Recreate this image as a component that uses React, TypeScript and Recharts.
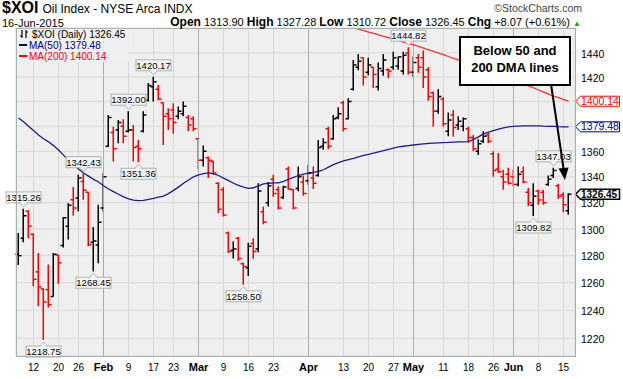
import React from 'react';
import { ComposedChart, Bar, Line, Scatter, XAxis, YAxis, CartesianGrid, ReferenceLine, ReferenceDot } from 'recharts';

// daily OHLC, 7-Jan-2015 .. 16-Jun-2015 (one entry per trading day)
const opens = [
  1281, 1293, 1313.5, 1296, 1268, 1255.5, 1255, 1250, 1280.4, 1287.6, 1302, 1322.3, 1323.5, 1336.4, 1328, 1290, 1288, 1316,
  1364, 1375, 1377, 1380, 1376, 1377, 1364, 1376, 1401, 1412, 1410, 1399, 1390, 1393, 1388, 1390, 1387, 1386,
  1370, 1353, 1355, 1352, 1335, 1330, 1297, 1284, 1293, 1274, 1271, 1289, 1285, 1313, 1320, 1338, 1330, 1324, 1346, 1330, 1331, 1336,
  1337, 1339, 1341, 1364, 1378, 1370, 1387, 1399, 1386, 1410, 1428, 1436, 1424, 1428, 1412, 1425, 1426, 1428, 1429, 1425, 1440,
  1424, 1436, 1436, 1426, 1407, 1392, 1402, 1376, 1389, 1381, 1380, 1378, 1371, 1360, 1368, 1373, 1358, 1346, 1340, 1342,
  1340, 1334, 1344, 1328, 1318, 1329, 1328, 1334, 1341, 1333, 1326, 1313.9,
];
const highs = [
  1297, 1315.26, 1314, 1296.5, 1282, 1256, 1273.5, 1282, 1280.4, 1309, 1319.8, 1332, 1341.6, 1342.43, 1328, 1301.5, 1318.5, 1343,
  1389, 1379.6, 1385, 1385.5, 1392, 1381, 1369, 1392, 1415, 1420.17, 1413.5, 1399, 1394.5, 1398.6, 1395.8, 1400, 1389, 1388,
  1370.3, 1364.5, 1355.9, 1352.8, 1335.6, 1332, 1298, 1290.7, 1294, 1275, 1289.6, 1293, 1335, 1317, 1336, 1341.6, 1332.5, 1333, 1348, 1330.5, 1348, 1341,
  1349.4, 1348, 1369, 1370.3, 1379.6, 1389, 1395.3, 1400.6, 1402.6, 1434, 1439, 1436, 1436, 1428, 1432, 1439, 1427, 1441, 1437, 1441, 1444.82,
  1437, 1439, 1442, 1428, 1408, 1410, 1403.4, 1391, 1393, 1388, 1387, 1379.5, 1373, 1369.5, 1376, 1374.5, 1360, 1358.6, 1345.5, 1347,
  1345.5, 1348, 1348, 1331.3, 1335, 1330, 1330, 1341, 1347.03, 1334.6, 1328, 1327.28,
];
const lows = [
  1273, 1290, 1293, 1257.5, 1243, 1218.75, 1242, 1250, 1259.3, 1286, 1292, 1310, 1313.5, 1322.3, 1287, 1268.45, 1274.4, 1313,
  1363.5, 1352, 1366.4, 1366.4, 1375, 1352, 1351.36, 1375, 1400, 1400, 1401, 1365, 1377, 1374, 1385.6, 1388, 1376, 1376,
  1346, 1348, 1339, 1341.6, 1312, 1309.4, 1282, 1277.8, 1276, 1258.5, 1265, 1277.7, 1282.5, 1303.6, 1317, 1324.6, 1314.7, 1322.8, 1330, 1314.7, 1328.7, 1325.4,
  1333.8, 1330.5, 1340.3, 1361.2, 1361.7, 1369, 1385.6, 1375.7, 1385.6, 1409, 1425.5, 1413, 1421.5, 1411, 1409, 1421, 1419, 1426, 1426, 1422, 1422,
  1420, 1423.5, 1411, 1400.5, 1379.5, 1390, 1379.5, 1372, 1371.5, 1377, 1376, 1366.7, 1360, 1357, 1366.5, 1366.5, 1340, 1343, 1330, 1334,
  1332.6, 1332.6, 1335, 1317.2, 1309.82, 1318.5, 1318.5, 1333, 1339, 1322.8, 1312.7, 1310.72,
];
const closes = [
  1280, 1310, 1302, 1262.5, 1257, 1246, 1244, 1281, 1274.7, 1308.4, 1318, 1316, 1339, 1329.5, 1288.4, 1291, 1305, 1340,
  1387, 1362, 1383, 1372, 1377, 1363, 1362, 1389, 1413, 1416, 1402, 1388, 1386, 1383, 1392, 1396, 1381, 1378,
  1353, 1360, 1353, 1343, 1315, 1310.5, 1283, 1285, 1278, 1272, 1287, 1283, 1329, 1305, 1333, 1327, 1316, 1332, 1330.5, 1316, 1340, 1327,
  1343, 1335, 1363, 1367, 1364, 1386, 1390, 1378, 1400, 1430, 1433, 1420, 1430, 1422, 1427, 1434, 1425, 1436, 1436.8, 1438, 1424,
  1432, 1428, 1420, 1404, 1392, 1404, 1382, 1385, 1379, 1384, 1386, 1371, 1362, 1366, 1372, 1368, 1345, 1344, 1336, 1335,
  1334, 1342, 1336, 1320, 1325, 1322, 1320, 1338, 1345, 1325, 1318.38, 1326.45,
];
const ma50 = [
  1386.6, 1383.5, 1380, 1376.5, 1373, 1370, 1367.5, 1364.5, 1361, 1357, 1353, 1349.5, 1346, 1343, 1340.5, 1338, 1336, 1333,
  1330.5, 1328.5, 1326.5, 1324.5, 1323, 1322, 1321.6, 1321.8, 1322.5, 1323.3, 1324.2, 1325, 1327, 1329.5, 1332, 1335, 1337.5, 1340,
  1341.5, 1342.4, 1343, 1342.5, 1341, 1339, 1337, 1335, 1333.3, 1332, 1331, 1331.5, 1333, 1334.5, 1335, 1335.2, 1335.3, 1336.5, 1338, 1339.5, 1341, 1342,
  1342.8, 1343.5, 1344.2, 1345.5, 1347.5, 1349.5, 1351, 1352.4, 1353.5, 1354.5, 1355.6, 1356.7, 1357.6, 1358.6, 1359.6, 1360.6, 1361.6, 1362.6, 1363.5, 1364, 1364.5,
  1365, 1365.5, 1365.9, 1366.2, 1366.5, 1366.7, 1366.9, 1367, 1367.2, 1367.4, 1367.5, 1367.7, 1369.5, 1371.5, 1373.8, 1375.3, 1376.5, 1377.6, 1378.6, 1379.4,
  1379.8, 1380, 1380.2, 1380.3, 1380.3, 1380.2, 1380, 1379.9, 1379.8, 1379.6, 1379.5, 1379.48,
];
// MA(200) only enters the visible range from early April
const ma200Start = 63;
const ma200 = [
  1466, 1464.8, 1463.6, 1462.4, 1461.2, 1460, 1458.8, 1457.6, 1456.4, 1455.2, 1454, 1452.8, 1451.6, 1450.4, 1449.1, 1447.9,
  1446.7, 1445.4, 1444, 1442.6, 1441.2, 1439.8, 1438.4, 1437, 1435.5, 1434, 1432.5, 1431, 1429.5, 1428, 1426.5, 1425, 1423.5, 1422, 1420.6, 1419.2,
  1417.6, 1416, 1414.3, 1412.6, 1411, 1409.3, 1407.6, 1406, 1404.4, 1403, 1401.5, 1400.14,
];

const xTickIdx = [3, 8, 12, 17, 22, 27, 31, 36, 41, 46, 51, 58, 65, 70, 75, 79, 85, 90, 95, 99, 104, 109];
const xTickText = ['12', '20', '26', 'Feb', '9', '17', '23', 'Mar', '9', '16', '23', 'Apr', '13', '20', '27', 'May', '11', '18', '26', 'Jun', '8', '15'];
const monthIdx = [17, 36, 58, 79, 99];
const yTicks = [1220, 1240, 1260, 1280, 1300, 1320, 1340, 1360, 1380, 1400, 1420, 1440];
const hiddenYTicks = [1380, 1400];

const callouts = [
  { i: 1, v: 1315.26, text: '1315.26', below: false },
  { i: 5, v: 1218.75, text: '1218.75', below: true },
  { i: 13, v: 1342.43, text: '1342.43', below: false },
  { i: 15, v: 1268.45, text: '1268.45', below: true },
  { i: 22, v: 1392.0, text: '1392.00', below: false },
  { i: 24, v: 1351.36, text: '1351.36', below: true },
  { i: 27, v: 1420.17, text: '1420.17', below: false },
  { i: 45, v: 1258.5, text: '1258.50', below: true },
  { i: 78, v: 1444.82, text: '1444.82', below: false },
  { i: 103, v: 1309.82, text: '1309.82', below: true },
  { i: 107, v: 1347.03, text: '1347.03', below: false },
];

const lastTags = [
  { v: 1400.14, text: '1400.14', color: '#ff0000', bold: false },
  { v: 1379.48, text: '1379.48', color: '#000080', bold: false },
  { v: 1326.45, text: '1326.45', color: '#000000', bold: true },
];

const data = opens.map((o, i) => ({
  i,
  open: o,
  close: closes[i],
  range: [lows[i], highs[i]],
  up: i === 0 || closes[i] >= closes[i - 1],
  ma50: ma50[i],
  ma200: i >= ma200Start ? ma200[i - ma200Start] : null,
}));

const RED = '#ff0000';
const FONT = '"Liberation Sans", Arial, sans-serif';

const HiLo = (p: any) => {
  const { x, y, width, height, payload } = p;
  const cx = x + width / 2;
  return <line x1={cx} x2={cx} y1={y} y2={y + height} stroke={payload.up ? '#000' : RED} strokeWidth={1.5} />;
};

const OpenTick = (p: any) => (
  <line x1={p.cx - 3} x2={p.cx} y1={p.cy} y2={p.cy} stroke={p.payload.up ? '#000' : RED} strokeWidth={1.5} />
);
const CloseTick = (p: any) => (
  <line x1={p.cx} x2={p.cx + 3} y1={p.cy} y2={p.cy} stroke={p.payload.up ? '#000' : RED} strokeWidth={1.5} />
);

const Callout = ({ cx, cy, text, below }: any) => {
  const w = 35;
  const h = 11;
  const top = below ? cy + 6 : cy - 6 - h;
  const edge = below ? top : top + h;
  const tip = below ? cy + 2 : cy - 2;
  return (
    <g>
      <rect x={cx - w / 2} y={top} width={w} height={h} fill="#f5f5f5" stroke="#a6b6ae" />
      <polygon points={`${cx - 4},${edge} ${cx},${tip} ${cx + 4},${edge}`} fill="#f5f5f5" stroke="#a6b6ae" />
      <line x1={cx - 3} x2={cx + 3} y1={edge} y2={edge} stroke="#f5f5f5" strokeWidth={1.5} />
      <text x={cx} y={top + 9} textAnchor="middle" fontSize={9.5} fill="#000" fontFamily={FONT}>{text}</text>
    </g>
  );
};

const Tag = ({ cx, cy, text, color, bold }: any) => {
  const x0 = cx + 7;
  const h = 10;
  return (
    <g>
      <polygon
        points={`${x0},${cy} ${x0 + 5},${cy - h / 2} ${x0 + 44},${cy - h / 2} ${x0 + 44},${cy + h / 2} ${x0 + 5},${cy + h / 2}`}
        fill="#fff"
        stroke={color}
        strokeWidth={bold ? 1.5 : 1}
      />
      <text x={x0 + 5.5} y={cy + 3.4} fontSize={bold ? 10 : 10.5} fontWeight={bold ? 'bold' : 'normal'} fill={color} fontFamily={FONT}>
        {text}
      </text>
    </g>
  );
};

const XTick = ({ x, y, payload }: any) => {
  const k = xTickIdx.indexOf(payload.value);
  const label = xTickText[k];
  const month = monthIdx.includes(payload.value);
  return (
    <text x={x} y={y + 15} textAnchor="middle" fontSize={month ? 11 : 10} fontWeight={month ? 'bold' : 'normal'} fill="#000" fontFamily={FONT}>
      {label}
    </text>
  );
};

const YTick = ({ x, y, payload }: any) => {
  if (hiddenYTicks.includes(payload.value)) return <g />;
  return (
    <text x={x} y={y + 4.6} fontSize={10.5} fill="#000" fontFamily={FONT}>{payload.value}</text>
  );
};

const LegendGlyph = () => (
  <svg width={10} height={10} style={{ verticalAlign: -1, marginRight: 3 }}>
    <line x1={3} x2={3} y1={1} y2={9} stroke="#000" strokeWidth={1.2} />
    <line x1={1} x2={3} y1={7} y2={7} stroke="#000" strokeWidth={1.2} />
    <line x1={7} x2={7} y1={1} y2={9} stroke="#000" strokeWidth={1.2} />
    <line x1={7} x2={9} y1={3} y2={3} stroke="#000" strokeWidth={1.2} />
  </svg>
);

export default function App() {
  return (
    <div style={{ position: 'absolute', left: 0, top: 0, width: 623, height: 379, background: '#fff', fontFamily: FONT, overflow: 'hidden' }}>
      <ComposedChart width={623} height={379} data={data} margin={{ top: 28, right: 0, bottom: 0, left: 16 }}>
        <CartesianGrid stroke="#d9d9d9" fill="#efefef" />
        <XAxis
          dataKey="i"
          type="number"
          domain={[-0.5, 111.3]}
          ticks={xTickIdx}
          interval={0}
          height={23}
          tickSize={0}
          tickMargin={0}
          axisLine={false}
          tickLine={false}
          tick={<XTick />}
        />
        <YAxis
          orientation="right"
          scale="log"
          domain={[1207.5, 1461]}
          allowDataOverflow
          ticks={yTicks}
          interval={0}
          width={48}
          tickSize={6}
          tickMargin={0}
          axisLine={false}
          tickLine={false}
          tick={<YTick />}
        />
        {monthIdx.map((m) => (
          <ReferenceLine key={m} x={m} stroke="#adadad" strokeWidth={1} />
        ))}
        <Line dataKey="ma200" stroke="#ff3030" strokeWidth={1.3} dot={false} isAnimationActive={false} />
        <Line dataKey="ma50" stroke="#1c1c8c" strokeWidth={1.3} dot={false} isAnimationActive={false} />
        <Bar dataKey="range" barSize={5} shape={<HiLo />} isAnimationActive={false} />
        <Scatter dataKey="open" shape={OpenTick} isAnimationActive={false} />
        <Scatter dataKey="close" shape={CloseTick} isAnimationActive={false} />
        {callouts.map((c) => (
          <ReferenceDot
            key={c.text}
            x={c.i}
            y={c.v}
            ifOverflow="visible"
            shape={(p: any) => <Callout cx={p.cx} cy={p.cy} text={c.text} below={c.below} />}
          />
        ))}
        {lastTags.map((t) => (
          <ReferenceDot
            key={t.text}
            x={110}
            y={t.v}
            ifOverflow="visible"
            shape={(p: any) => <Tag cx={p.cx} cy={p.cy} text={t.text} color={t.color} bold={t.bold} />}
          />
        ))}
      </ComposedChart>

      {/* plot frame */}
      <div style={{ position: 'absolute', left: 16, top: 28, width: 558, height: 327, border: '1px solid #a4b4ac', pointerEvents: 'none' }} />

      {/* header */}
      <div style={{ position: 'absolute', left: 2, top: 0, whiteSpace: 'nowrap', lineHeight: '16px', height: 16 }}>
        <span style={{ fontSize: 16, fontWeight: 'bold' }}>$XOI</span>
        <span style={{ fontSize: 12, marginLeft: 4 }}>Oil Index - NYSE Arca INDX</span>
      </div>
      <div style={{ position: 'absolute', right: 41, top: 2, fontSize: 10.5, lineHeight: '12px', color: '#444', whiteSpace: 'nowrap' }}>©StockCharts.com</div>
      <div style={{ position: 'absolute', left: 2, top: 17, fontSize: 11, lineHeight: '12px', whiteSpace: 'nowrap' }}>16-Jun-2015</div>
      <div style={{ position: 'absolute', right: 42, top: 16, fontSize: 11, lineHeight: '13px', height: 13, whiteSpace: 'nowrap' }}>
        <b style={{ fontSize: 12 }}>Open</b> 1313.90 <b style={{ fontSize: 12 }}>High</b> 1327.28 <b style={{ fontSize: 12 }}>Low</b> 1310.72{' '}
        <b style={{ fontSize: 12 }}>Close</b> 1326.45 <b style={{ fontSize: 12 }}>Chg</b> +8.07 (+0.61%){' '}
        <span style={{ color: '#1aa31a', fontSize: 8 }}>▲</span>
      </div>

      {/* legend */}
      <div style={{ position: 'absolute', left: 17, top: 29, width: 112, height: 33, background: 'rgba(240,240,240,0.8)', fontSize: 10, lineHeight: '11px', whiteSpace: 'nowrap' }}>
        <div style={{ paddingLeft: 2 }}><LegendGlyph />$XOI (Daily) 1326.45</div>
        <div style={{ paddingLeft: 2, color: '#000080' }}>
          <span style={{ display: 'inline-block', width: 8, height: 2, background: '#000080', verticalAlign: 3, marginRight: 2 }} />MA(50) 1379.48
        </div>
        <div style={{ paddingLeft: 2, color: RED }}>
          <span style={{ display: 'inline-block', width: 8, height: 2, background: RED, verticalAlign: 3, marginRight: 2 }} />MA(200) 1400.14
        </div>
      </div>

      {/* annotation */}
      <div
        style={{
          position: 'absolute', left: 459, top: 36, width: 108, height: 42, background: '#fff', border: '2px solid #000',
          fontSize: 13, fontWeight: 'bold', lineHeight: '17px', textAlign: 'center', paddingTop: 4, boxSizing: 'content-box',
        }}
      >
        Below 50 and
        <br />
        200 DMA lines
      </div>
      <svg width={623} height={379} style={{ position: 'absolute', left: 0, top: 0, pointerEvents: 'none' }}>
        <line x1={551} y1={84} x2={563.6} y2={169} stroke="#000" strokeWidth={2} />
        <polygon points="558.5,168.5 568.5,167.5 565,180" fill="#000" />
      </svg>
    </div>
  );
}
